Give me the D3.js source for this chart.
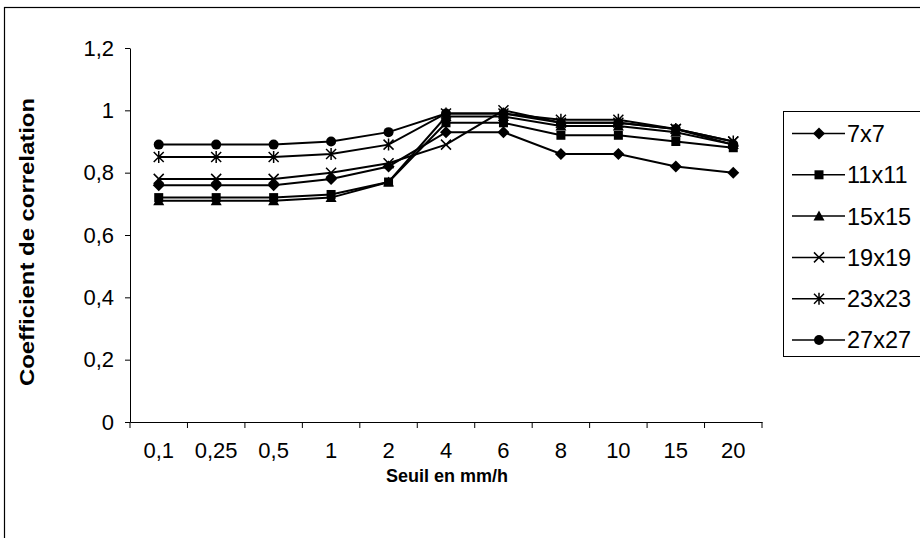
<!DOCTYPE html>
<html><head><meta charset="utf-8">
<script src="https://cdn.jsdelivr.net/npm/d3@7"></script>
<style>body{margin:0;background:#fff}svg{display:block}text{font-family:"Liberation Sans",Arial,sans-serif}</style>
</head><body><svg id="c" width="920" height="538"></svg>
<script>
const categories=["0,1","0,25","0,5","1","2","4","6","8","10","15","20"];
const s7x7  =[0.76,0.76,0.76,0.78,0.82,0.93,0.93,0.86,0.86,0.82,0.80];
const s11x11=[0.72,0.72,0.72,0.73,0.77,0.96,0.96,0.92,0.92,0.90,0.88];
const s15x15=[0.71,0.71,0.71,0.72,0.77,0.98,0.98,0.95,0.95,0.93,0.89];
const s19x19=[0.78,0.78,0.78,0.80,0.83,0.89,1.00,0.96,0.96,0.94,0.90];
const s23x23=[0.85,0.85,0.85,0.86,0.89,0.99,0.99,0.97,0.97,0.94,0.90];
const s27x27=[0.89,0.89,0.89,0.90,0.93,0.99,0.99,0.96,0.96,0.94,0.89];
const seriesNames=["7x7","11x11","15x15","19x19","23x23","27x27"];
const yTicks=[0,0.2,0.4,0.6,0.8,1,1.2];
const yTickLabels=["0","0,2","0,4","0,6","0,8","1","1,2"];

const series=[s7x7,s11x11,s15x15,s19x19,s23x23,s27x27];
const markers=["diamond","square","triangle","x","star","circle"];
const svg=d3.select("#c");
const FS=22;
// outer frame
svg.append("rect").attr("x",4.5).attr("y",7.5).attr("width",930).attr("height",560)
  .attr("fill","none").attr("stroke","#000").attr("stroke-width",1.2);

const L=130,R=762,T=48,B=422;
const x=d3.scaleBand().domain(categories).range([L,R]);
const y=d3.scaleLinear().domain([0,1.2]).range([B,T]);

// y axis
const ya=svg.append("g").attr("transform",`translate(${L},0)`)
  .call(d3.axisLeft(y).tickValues(yTicks).tickFormat((d,i)=>yTickLabels[i]).tickSize(5).tickSizeOuter(0));
ya.select(".domain").attr("stroke","#000");
ya.selectAll("text").attr("font-size",FS).attr("fill","#000").attr("dx",-8);
// x axis
const xa=svg.append("g").attr("transform",`translate(0,${B})`)
  .call(d3.axisBottom(x).tickSize(0).tickSizeOuter(0));
xa.select(".domain").attr("stroke","#000");
xa.selectAll("text").attr("font-size",FS).attr("fill","#000").attr("y",36).attr("dy",0);
// x ticks at band boundaries
const bounds=categories.map(c=>x(c)).concat([R]);
svg.append("g").selectAll("line").data(bounds).join("line")
  .attr("x1",d=>d).attr("x2",d=>d).attr("y1",B).attr("y2",B+6).attr("stroke","#000");

// axis titles
svg.append("text").attr("transform","translate(34,242) rotate(-90)").attr("text-anchor","middle")
  .attr("font-size",20).attr("font-weight","bold").attr("textLength",288).attr("lengthAdjust","spacingAndGlyphs")
  .text("Coefficient de correlation");
svg.append("text").attr("x",447).attr("y",482).attr("text-anchor","middle")
  .attr("font-size",18).attr("font-weight","bold")
  .text("Seuil en mm/h");

function drawMarker(g,type,cx,cy){
  const s=5;
  if(type==="diamond") g.append("path").attr("d",`M${cx},${cy-s-1}L${cx+s+1},${cy}L${cx},${cy+s+1}L${cx-s-1},${cy}Z`).attr("fill","#000");
  else if(type==="square") g.append("rect").attr("x",cx-4.5).attr("y",cy-4.5).attr("width",9).attr("height",9).attr("fill","#000");
  else if(type==="triangle") g.append("path").attr("d",`M${cx},${cy-5.5}L${cx+5.5},${cy+4.5}L${cx-5.5},${cy+4.5}Z`).attr("fill","#000");
  else if(type==="x") g.append("path").attr("d",`M${cx-5},${cy-5}L${cx+5},${cy+5}M${cx+5},${cy-5}L${cx-5},${cy+5}`).attr("stroke","#000").attr("stroke-width",1.5);
  else if(type==="star") g.append("path").attr("d",`M${cx-5},${cy-5}L${cx+5},${cy+5}M${cx+5},${cy-5}L${cx-5},${cy+5}M${cx},${cy-6}L${cx},${cy+6}`).attr("stroke","#000").attr("stroke-width",1.5);
  else if(type==="circle") g.append("circle").attr("cx",cx).attr("cy",cy).attr("r",5).attr("fill","#000");
}

const line=d3.line().x((d,i)=>x(categories[i])+x.bandwidth()/2).y(d=>y(d));
series.forEach((vals,si)=>{
  const g=svg.append("g");
  g.append("path").attr("d",line(vals)).attr("fill","none").attr("stroke","#000").attr("stroke-width",2);
  vals.forEach((v,i)=>drawMarker(g,markers[si],x(categories[i])+x.bandwidth()/2,y(v)));
});

// legend
svg.append("rect").attr("x",783.5).attr("y",111.5).attr("width",150).attr("height",245)
  .attr("fill","#fff").attr("stroke","#000").attr("stroke-width",1);
seriesNames.forEach((n,i)=>{
  const ly=133.5+i*41.3;
  const g=svg.append("g");
  g.append("line").attr("x1",792).attr("x2",845).attr("y1",ly).attr("y2",ly).attr("stroke","#000").attr("stroke-width",1.5);
  drawMarker(g,markers[i],819,ly);
  g.append("text").attr("x",847).attr("y",ly).attr("dy","0.36em").attr("font-size",23.5).text(n);
});
</script></body></html>
